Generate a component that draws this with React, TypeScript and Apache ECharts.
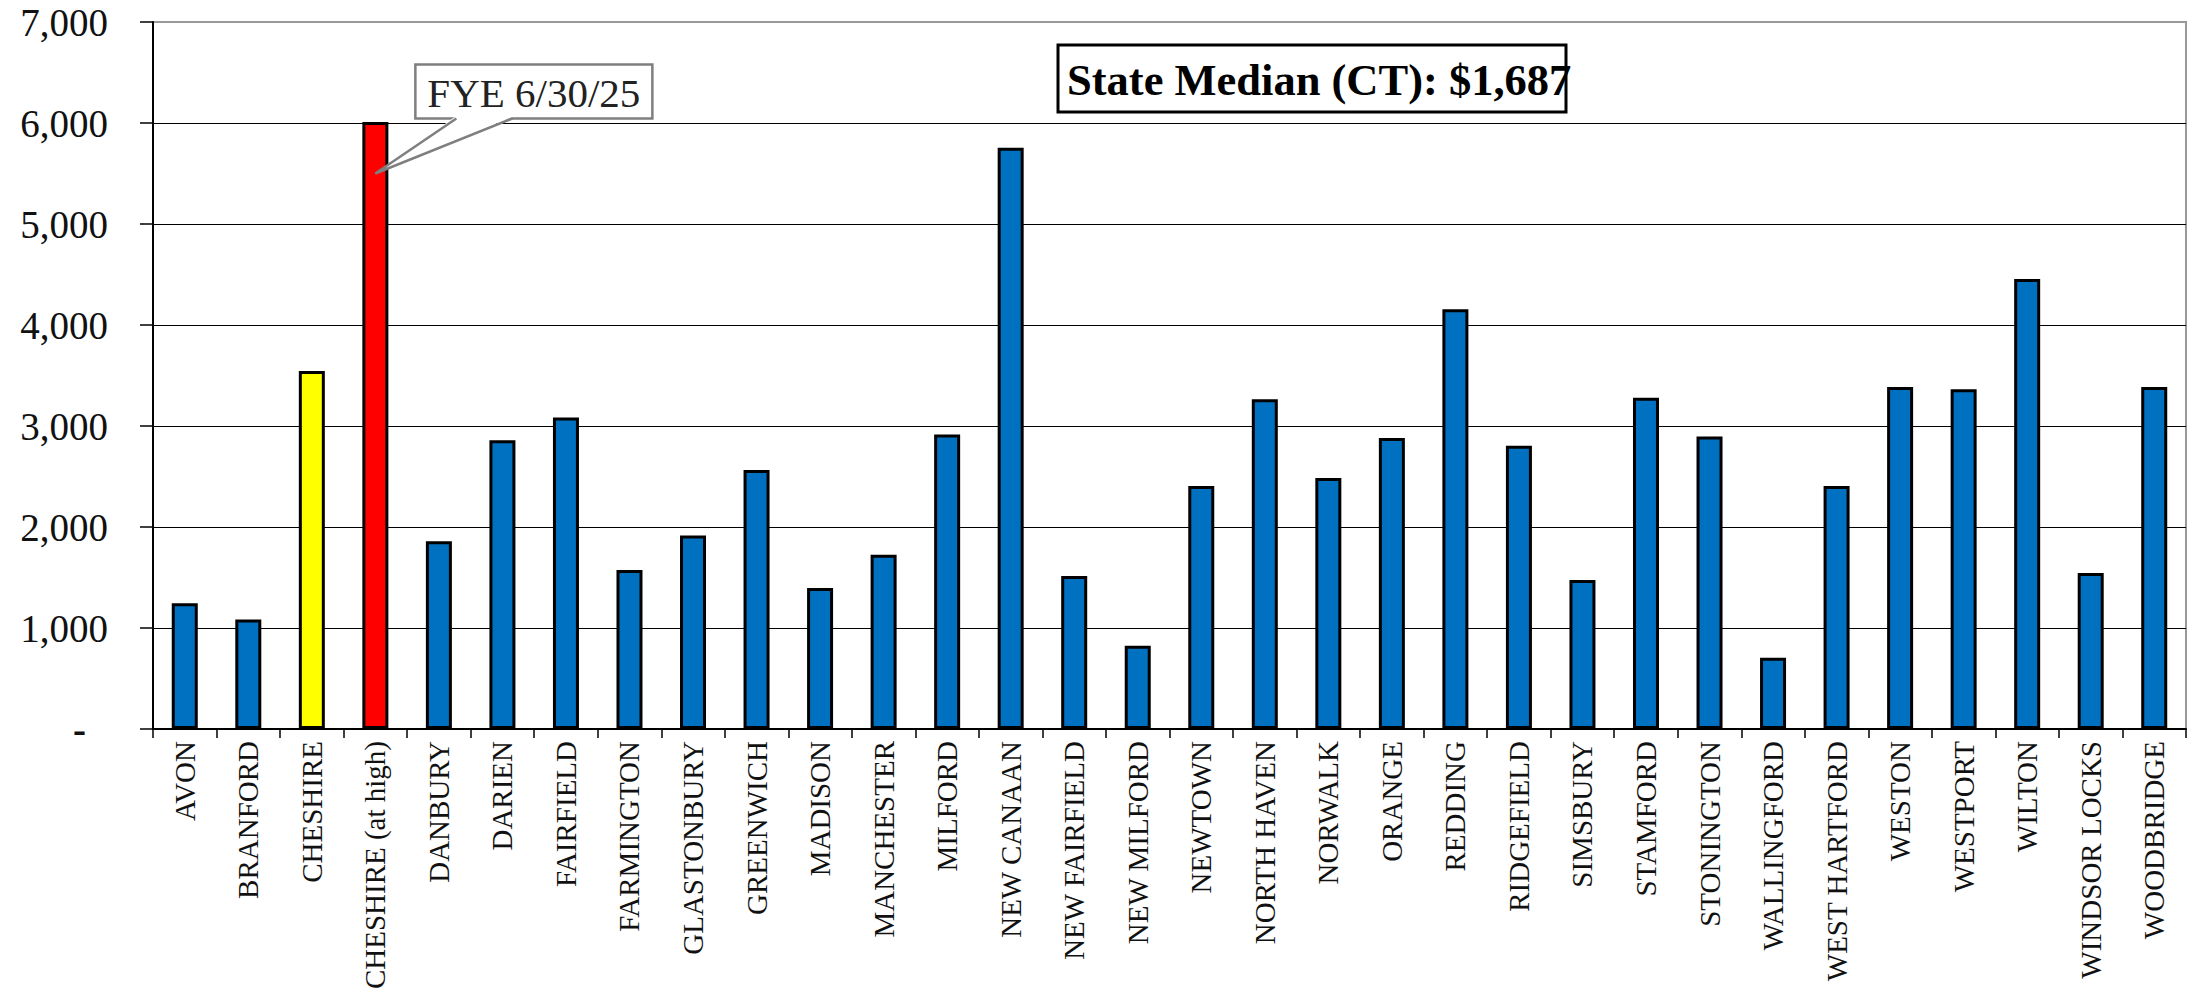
import React, { useEffect, useRef } from "react";
import * as echarts from "echarts";

const categories = [
  "AVON", "BRANFORD", "CHESHIRE", "CHESHIRE (at high)", "DANBURY", "DARIEN",
  "FAIRFIELD", "FARMINGTON", "GLASTONBURY", "GREENWICH", "MADISON", "MANCHESTER",
  "MILFORD", "NEW CANAAN", "NEW FAIRFIELD", "NEW MILFORD", "NEWTOWN", "NORTH HAVEN",
  "NORWALK", "ORANGE", "REDDING", "RIDGEFIELD", "SIMSBURY", "STAMFORD",
  "STONINGTON", "WALLINGFORD", "WEST HARTFORD", "WESTON", "WESTPORT", "WILTON",
  "WINDSOR LOCKS", "WOODBRIDGE",
];

const values = [
  1245, 1085, 3545, 6010, 1860, 2860,
  3085, 1575, 1915, 2565, 1395, 1725,
  2915, 5755, 1515, 825, 2405, 3265,
  2485, 2880, 4155, 2805, 1475, 3280,
  2895, 705, 2405, 3385, 3365, 4455,
  1545, 3385,
];

const defaultColor = "#0070C0";
const highlightNames = ["CHESHIRE", "CHESHIRE (at high)"];
const highlightColors = ["#FFFF00", "#FF0000"];

const yMin = 0;
const yMax = 7000;
const yStep = 1000;

const stateMedianLabel = "State Median (CT): $1,687";
const calloutLabel = "FYE 6/30/25";
const calloutCategoryIndex = 3;
const calloutValue = 5500;

const FONT = '"Liberation Serif", "Times New Roman", serif';

export default function App() {
  const ref = useRef<HTMLDivElement>(null);

  useEffect(() => {
    document.body.style.margin = "0";
    const chart = echarts.init(ref.current!, null, { renderer: "svg" });

    const data = categories.map((c, i) => {
      const h = highlightNames.indexOf(c);
      return {
        value: values[i],
        itemStyle: { color: h >= 0 ? highlightColors[h] : defaultColor },
      };
    });

    chart.setOption({
      animation: false,
      backgroundColor: "#ffffff",
      grid: {
        left: 153,
        right: 7,
        top: 22,
        bottom: 271,
        containLabel: false,
        outerBoundsMode: "none",
        show: true,
        borderColor: "#999999",
        borderWidth: 2,
        backgroundColor: "transparent",
      },
      xAxis: {
        type: "category",
        data: categories,
        boundaryGap: true,
        axisLine: { show: true, lineStyle: { color: "#000", width: 2 } },
        axisTick: { show: true, length: 9, interval: 0, lineStyle: { color: "#000", width: 1.5 } },
        axisLabel: {
          interval: 0,
          rotate: 90,
          margin: 12,
          fontFamily: FONT,
          fontSize: 29,
          color: "#111",
        },
        splitLine: { show: false },
      },
      yAxis: {
        type: "value",
        min: yMin,
        max: yMax,
        interval: yStep,
        axisLine: { show: true, lineStyle: { color: "#000", width: 2 } },
        axisTick: { show: true, length: 13, lineStyle: { color: "#000", width: 1.5 } },
        axisLabel: {
          margin: 45,
          fontFamily: FONT,
          fontSize: 39,
          color: "#111",
          formatter: (v: number) =>
            v === 0 ? "{d|-}" : v.toLocaleString("en-US"),
          rich: {
            d: { fontFamily: FONT, fontSize: 39, fontWeight: "bold", color: "#111", padding: [0, 22, 0, 0] },
          },
        },
        splitLine: {
          show: true,
          showMaxLine: false,
          lineStyle: { color: "#000", width: 1.2 },
        },
      },
      series: [
        {
          type: "bar",
          data,
          barWidth: 26,
          itemStyle: { borderColor: "#000", borderWidth: 3 },
          z: 3,
        },
      ],
    });

    const tip = chart.convertToPixel({ xAxisIndex: 0, yAxisIndex: 0 }, [
      calloutCategoryIndex,
      calloutValue,
    ]) as number[];
    const tx = tip[0];
    const ty = tip[1];
    const bx = tx + 40;
    const by = ty - 109;
    const bw = 237;
    const bh = 54;
    const baseL = tx + 81;
    const baseR = tx + 137;
    const baseY = by + bh;

    const mx = 1058;
    const my = 45;
    const mw = 508;
    const mh = 67;

    chart.setOption({
      graphic: [
        {
          type: "rect",
          shape: { x: bx, y: by, width: bw, height: bh },
          style: { fill: "#fff", stroke: "#7F7F7F", lineWidth: 2.5 },
          z: 100,
        },
        {
          type: "polygon",
          shape: { points: [[baseL - 1, baseY - 2], [tx, ty], [baseR + 1, baseY - 2]] },
          style: { fill: "#fff", stroke: "none" },
          z: 101,
        },
        {
          type: "polyline",
          shape: { points: [[baseL, baseY], [tx, ty], [baseR, baseY]] },
          style: { stroke: "#7F7F7F", lineWidth: 2.5, fill: "none" },
          z: 102,
        },
        {
          type: "text",
          x: bx + bw / 2,
          y: by + bh / 2 + 1,
          style: {
            text: calloutLabel,
            fontFamily: FONT,
            fontSize: 41,
            fill: "#222",
            align: "center",
            verticalAlign: "middle",
          },
          z: 103,
        },
        {
          type: "rect",
          shape: { x: mx, y: my, width: mw, height: mh },
          style: { fill: "#fff", stroke: "#000", lineWidth: 3 },
          z: 100,
        },
        {
          type: "text",
          x: mx + 9,
          y: my + mh / 2 + 1,
          style: {
            text: stateMedianLabel,
            fontFamily: FONT,
            fontSize: 44.5,
            fontWeight: "bold",
            fill: "#000",
            align: "left",
            verticalAlign: "middle",
          },
          z: 101,
        },
      ],
    });

    return () => chart.dispose();
  }, []);

  return <div ref={ref} style={{ width: 2193, height: 1000 }} />;
}
